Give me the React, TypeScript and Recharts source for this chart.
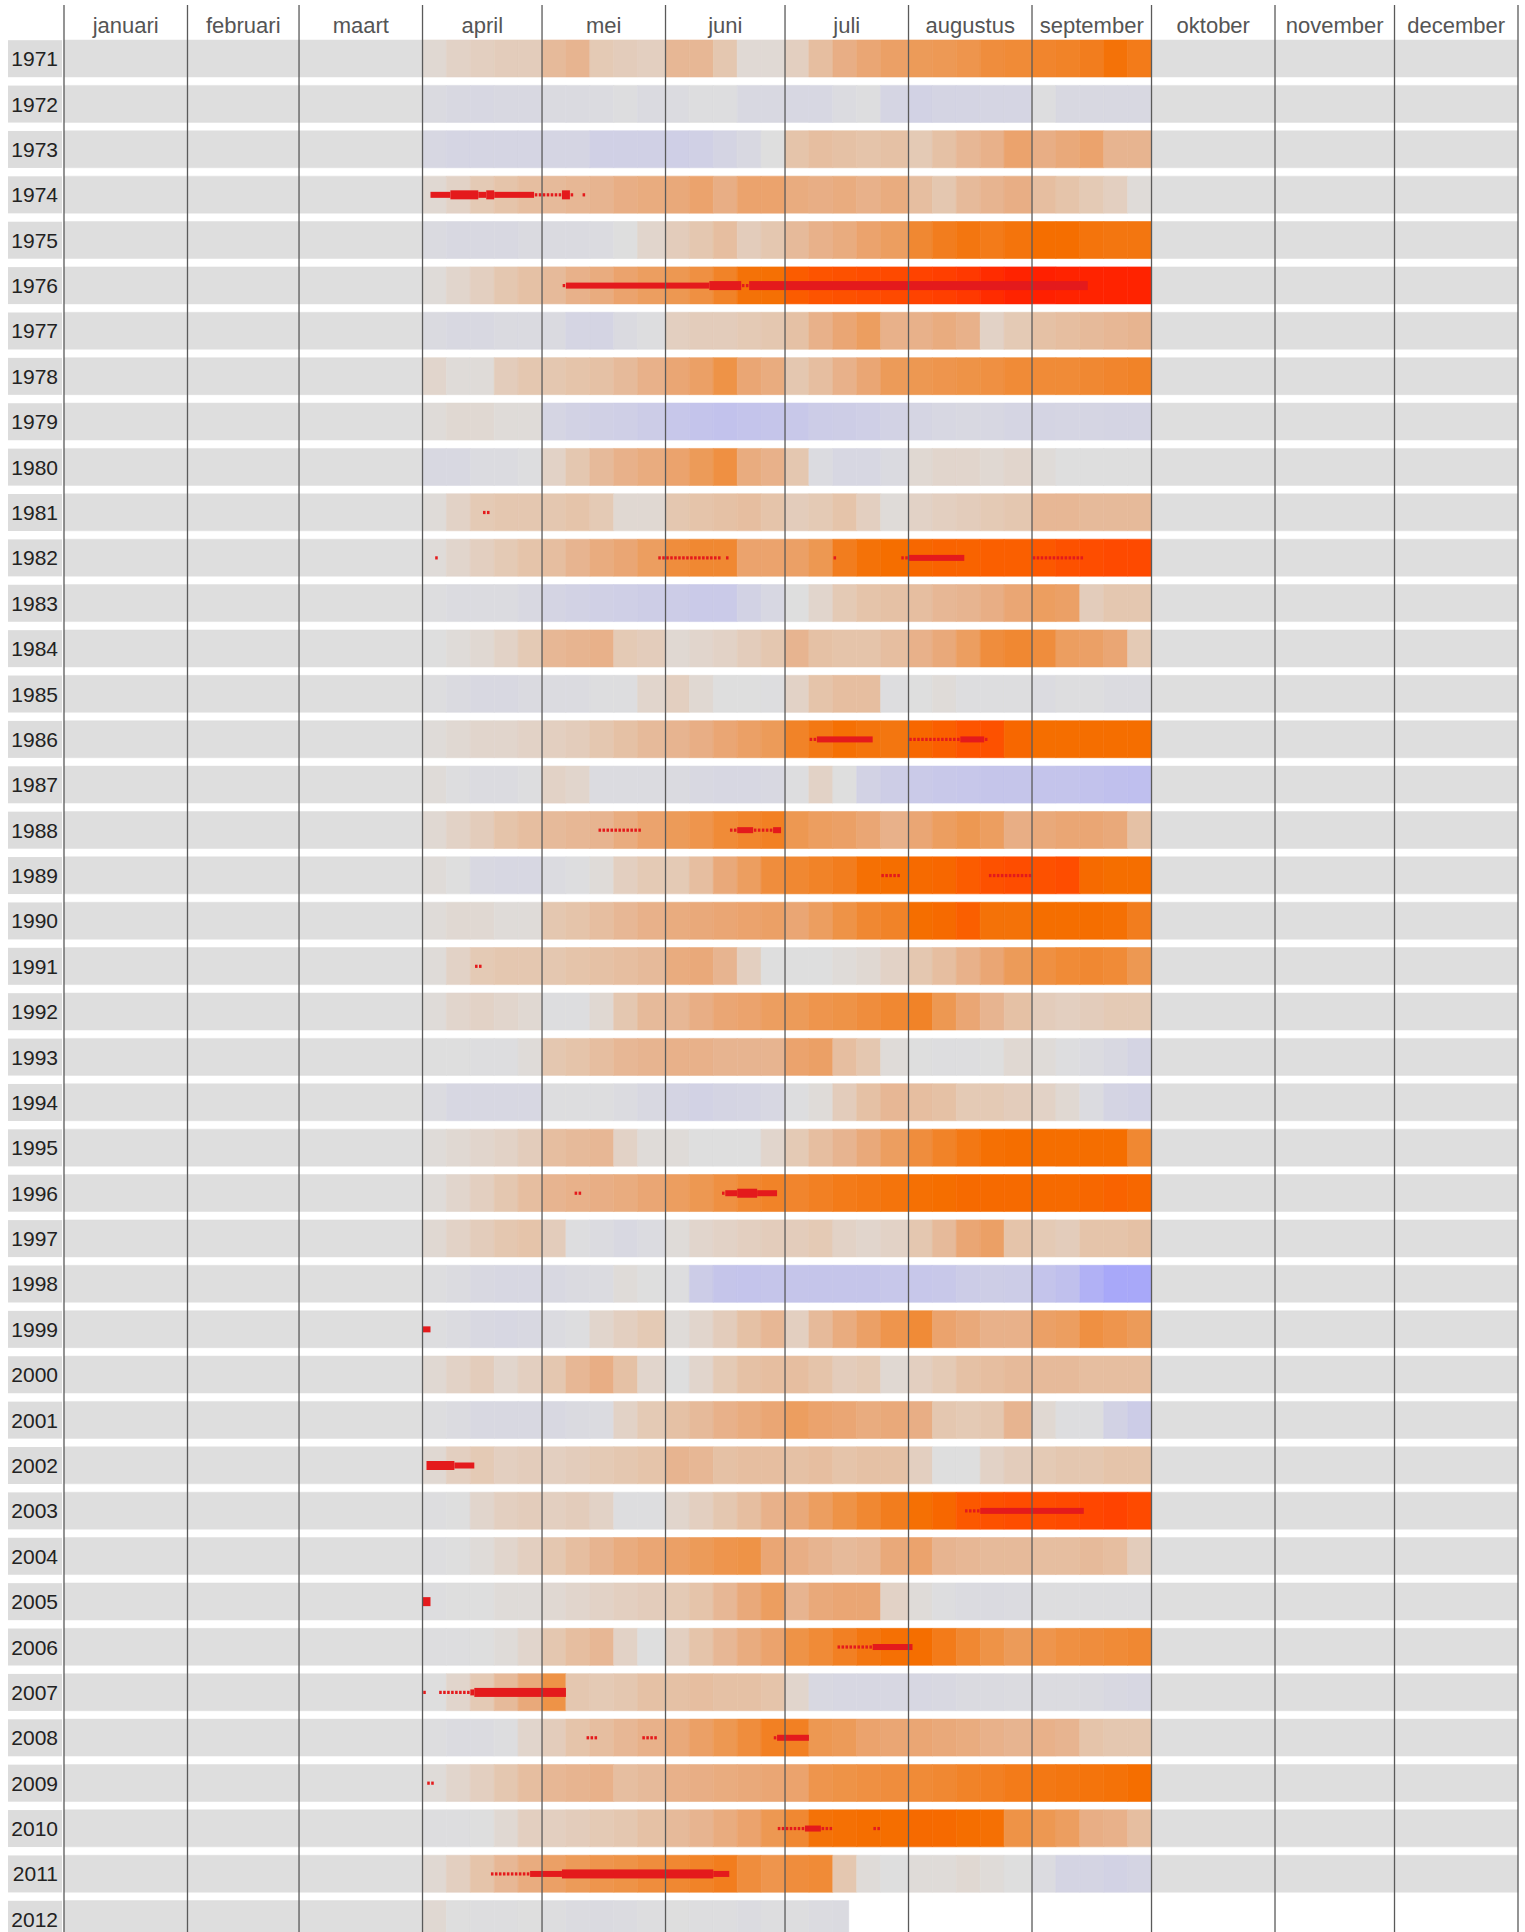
import React from "react";
import { BarChart, Bar, XAxis, YAxis, Cell, ReferenceLine, ReferenceArea } from "recharts";

// Daily precipitation deficit per year (april - september), with dry spells on top.
// Heat is read per ~6-day block; gray = 0, lavender = surplus, orange/red = deficit.
const FONT = '"Liberation Sans", Arial, Helvetica, sans-serif';
const BAND = "#dedede";
const LABEL_BG = "#dcdcdc";
const RULE = "#5a5a5a";
const DRY = "#e41a1c";

const monthNames = [
  "januari", "februari", "maart", "april", "mei", "juni",
  "juli", "augustus", "september", "oktober", "november", "december",
];
const monthDays = [31, 28, 31, 30, 31, 30, 31, 31, 30, 31, 30, 31];

// season blocks: 5 per month, april .. september
const blockDays = [
  6, 6, 6, 6, 6,
  6, 6, 6, 6, 7,
  6, 6, 6, 6, 6,
  6, 6, 6, 6, 7,
  6, 6, 6, 6, 7,
  6, 6, 6, 6, 6,
];
const seasonStart = 90;
const seasonEnd = 273;
const lastDay2012 = 197;

const years = [
  1971, 1972, 1973, 1974, 1975, 1976, 1977, 1978, 1979, 1980,
  1981, 1982, 1983, 1984, 1985, 1986, 1987, 1988, 1989, 1990,
  1991, 1992, 1993, 1994, 1995, 1996, 1997, 1998, 1999, 2000,
  2001, 2002, 2003, 2004, 2005, 2006, 2007, 2008, 2009, 2010,
  2011, 2012,
];

// deficit in mm per block
const d1971 = [10, 20, 25, 30, 30, 60, 70, 35, 30, 25, 65, 65, 40, 8, 8, 25, 55, 80, 95, 105, 115, 118, 125, 140, 145, 155, 160, 170, 195, 175];
const d1972 = [-15, -20, -25, -20, -20, -15, -15, -10, -5, -15, -10, -5, -5, -20, -20, -25, -25, -10, -5, -30, -40, -35, -35, -30, -30, -5, -20, -20, -20, -20];
const d1973 = [-25, -30, -30, -30, -30, -30, -30, -45, -45, -45, -50, -45, -35, -20, 0, 45, 55, 50, 45, 50, 35, 50, 65, 75, 100, 80, 90, 100, 70, 70];
const d1974 = [10, 20, 35, 45, 55, 60, 65, 70, 80, 85, 90, 100, 80, 100, 100, 85, 80, 85, 75, 85, 55, 40, 60, 70, 80, 55, 45, 35, 25, 5];
const d1975 = [-15, -20, -20, -20, -15, -15, -15, -10, 0, 15, 30, 40, 55, 30, 40, 60, 75, 85, 100, 110, 150, 170, 185, 175, 190, 205, 205, 190, 185, 185];
const d1976 = [5, 15, 25, 40, 50, 60, 75, 85, 100, 110, 120, 135, 160, 195, 200, 230, 240, 245, 250, 255, 265, 270, 280, 300, 315, 320, 315, 315, 315, 315];
const d1977 = [-15, -20, -20, -15, -15, -15, -30, -35, -15, -5, 25, 30, 30, 35, 40, 50, 75, 95, 110, 75, 75, 85, 75, 20, 35, 50, 55, 60, 65, 70];
const d1978 = [15, 5, 5, 30, 40, 40, 45, 50, 60, 75, 95, 105, 130, 95, 85, 40, 55, 75, 95, 115, 120, 125, 130, 135, 145, 145, 145, 150, 155, 160];
const d1979 = [5, 10, 10, 5, 5, -30, -40, -45, -50, -60, -75, -85, -90, -85, -80, -70, -60, -55, -50, -40, -30, -25, -20, -25, -30, -35, -30, -30, -35, -35];
const d1980 = [-20, -20, -10, -10, -5, 20, 40, 60, 75, 85, 100, 115, 135, 85, 75, 40, -10, -25, -25, -15, 10, 15, 15, 10, 15, 5, 0, 0, 0, 0];
const d1981 = [5, 20, 35, 40, 40, 40, 45, 35, 10, 10, 40, 45, 50, 55, 45, 30, 35, 45, 25, 5, 20, 25, 30, 35, 40, 65, 65, 60, 60, 60];
const d1982 = [5, 15, 25, 35, 45, 55, 70, 85, 95, 110, 140, 150, 150, 100, 100, 105, 120, 170, 195, 205, 215, 220, 220, 225, 225, 235, 245, 250, 255, 255];
const d1983 = [-5, -10, -10, -10, -20, -35, -40, -45, -50, -55, -60, -65, -65, -40, -25, 0, 15, 35, 45, 50, 55, 65, 70, 80, 95, 110, 105, 30, 40, 40];
const d1984 = [0, 5, 10, 20, 35, 65, 70, 75, 35, 30, 10, 15, 20, 30, 40, 70, 50, 45, 45, 55, 75, 90, 110, 140, 150, 140, 110, 105, 95, 35];
const d1985 = [-5, -15, -20, -20, -15, -10, -10, -5, -5, 15, 25, 10, 0, 0, -5, 20, 45, 55, 55, -5, 0, 5, -5, -5, -5, -10, -5, -5, -10, -10];
const d1986 = [5, 10, 15, 15, 20, 25, 30, 40, 50, 60, 70, 80, 95, 105, 115, 160, 180, 200, 190, 185, 215, 225, 240, 245, 215, 205, 205, 205, 205, 205];
const d1987 = [5, -5, -10, -10, -5, 20, 15, -10, -10, -10, -15, -20, -25, -25, -20, -5, 20, 0, -40, -55, -65, -70, -75, -80, -80, -85, -85, -90, -95, -100];
const d1988 = [10, 20, 30, 45, 55, 60, 65, 70, 85, 100, 115, 125, 145, 155, 165, 120, 110, 105, 95, 75, 95, 110, 120, 110, 80, 90, 95, 95, 90, 50];
const d1989 = [5, 0, -20, -25, -25, -10, -5, 5, 25, 35, 35, 55, 90, 110, 140, 150, 160, 170, 200, 205, 210, 215, 230, 245, 250, 245, 250, 210, 205, 205];
const d1990 = [5, 10, 10, 5, 5, 40, 45, 55, 65, 75, 85, 90, 95, 100, 105, 95, 110, 130, 150, 160, 205, 210, 225, 195, 195, 205, 205, 205, 200, 170];
const d1991 = [5, 20, 35, 40, 40, 40, 45, 50, 55, 60, 85, 90, 70, 25, 0, 0, 0, 5, 10, 20, 40, 55, 75, 95, 115, 135, 145, 150, 145, 120];
const d1992 = [5, 15, 20, 15, 10, -5, -5, 10, 40, 60, 65, 80, 95, 100, 110, 115, 125, 130, 140, 150, 160, 120, 95, 70, 50, 30, 25, 30, 35, 35];
const d1993 = [0, 0, -5, -5, 5, 40, 45, 55, 65, 70, 75, 75, 70, 70, 70, 100, 105, 55, 40, 5, 0, -5, -5, 0, 10, 5, -5, -10, -20, -35];
const d1994 = [-10, -25, -25, -25, -25, -5, -5, -5, -10, -20, -35, -40, -35, -30, -25, -5, 5, 30, 50, 65, 55, 50, 35, 35, 30, 20, 10, -10, -35, -40];
const d1995 = [5, 10, 15, 20, 30, 55, 60, 65, 20, 5, 5, 0, 0, 0, 15, 35, 55, 70, 90, 110, 140, 160, 180, 200, 205, 205, 205, 205, 205, 150];
const d1996 = [5, 15, 25, 40, 55, 70, 75, 80, 85, 95, 110, 120, 135, 150, 160, 155, 165, 175, 180, 190, 200, 205, 210, 210, 210, 210, 210, 215, 220, 215];
const d1997 = [10, 20, 30, 40, 45, 30, -5, -10, -20, -10, 5, 15, 20, 25, 30, 30, 35, 20, 15, 20, 40, 60, 95, 105, 45, 35, 30, 45, 45, 50];
const d1998 = [-5, -10, -20, -25, -25, -20, -15, -10, 5, 0, -5, -60, -80, -85, -80, -80, -80, -80, -80, -75, -75, -70, -60, -55, -60, -85, -95, -140, -165, -165];
const d1999 = [-5, -10, -20, -25, -20, -10, -5, 15, 25, 35, 5, 15, 30, 50, 65, 25, 60, 85, 105, 125, 145, 100, 90, 75, 75, 105, 110, 135, 125, 115];
const d2000 = [10, 20, 30, 15, 25, 40, 65, 80, 50, 15, 0, 15, 35, 50, 55, 55, 45, 30, 35, 10, 25, 35, 50, 55, 60, 60, 60, 55, 55, 55];
const d2001 = [-5, -10, -20, -20, -20, -20, -15, -10, 20, 35, 50, 60, 75, 85, 95, 110, 100, 95, 85, 90, 80, 40, 35, 40, 70, 10, -5, -5, -40, -60];
const d2002 = [10, 25, 35, 25, 30, 25, 30, 35, 40, 45, 70, 65, 50, 55, 55, 50, 55, 45, 50, 50, 25, 0, 0, 20, 30, 35, 40, 40, 45, 45];
const d2003 = [-5, 0, 15, 25, 30, 25, 30, 20, -5, -5, 15, 25, 40, 55, 75, 90, 110, 130, 150, 170, 200, 215, 235, 245, 250, 250, 255, 260, 265, 255];
const d2004 = [-5, 0, 5, 15, 25, 40, 55, 70, 85, 95, 105, 115, 125, 130, 95, 80, 70, 60, 65, 90, 100, 70, 65, 60, 60, 55, 55, 60, 55, 30];
const d2005 = [-5, 0, 0, 5, 5, 10, 15, 20, 25, 30, 35, 45, 65, 90, 110, 70, 90, 95, 95, 20, 5, -5, -10, -15, -10, -5, -5, -5, -5, -5];
const d2006 = [-5, -5, 0, 5, 15, 40, 55, 65, 20, 0, 25, 45, 65, 85, 100, 130, 145, 165, 185, 200, 205, 175, 150, 130, 115, 125, 135, 140, 145, 150];
const d2007 = [0, 15, 35, 60, 90, 130, 40, 35, 40, 50, 50, 55, 50, 50, 45, 15, -20, -25, -25, -25, -25, -20, -15, -15, -10, -10, -10, -15, -20, -25];
const d2008 = [-5, -10, -10, -5, 15, 30, 45, 55, 65, 75, 90, 105, 120, 140, 165, 165, 120, 115, 100, 95, 95, 90, 85, 75, 70, 75, 70, 45, 40, 40];
const d2009 = [5, 15, 25, 40, 55, 65, 70, 75, 55, 60, 75, 80, 85, 90, 95, 100, 125, 130, 135, 140, 145, 150, 160, 165, 175, 180, 185, 190, 195, 205];
const d2010 = [-5, -5, 0, 10, 25, 25, 30, 35, 40, 50, 60, 70, 85, 100, 120, 150, 195, 200, 205, 205, 210, 210, 205, 200, 130, 120, 110, 80, 75, 55];
const d2011 = [10, 25, 45, 65, 85, 105, 115, 125, 130, 140, 150, 160, 170, 140, 125, 140, 145, 40, 5, 0, 5, 5, 10, 5, 0, -10, -35, -35, -40, -35];
const d2012 = [10, 0, -5, -5, 0, -5, -10, -15, -10, -5, 0, -5, -5, -10, -5, -5, -10, -15];

const deficit = [
  d1971, d1972, d1973, d1974, d1975, d1976, d1977, d1978, d1979, d1980,
  d1981, d1982, d1983, d1984, d1985, d1986, d1987, d1988, d1989, d1990,
  d1991, d1992, d1993, d1994, d1995, d1996, d1997, d1998, d1999, d2000,
  d2001, d2002, d2003, d2004, d2005, d2006, d2007, d2008, d2009, d2010,
  d2011, d2012,
];

// dry spells: [first day, end day, weight] with 1 = single days, 2 = spell, 3 = long spell
const dry1974 = [[92, 97, 2], [97, 104, 3], [104, 106, 2], [106, 108, 3], [108, 118, 2], [118, 125, 1], [125, 127, 3], [127, 128, 1], [130, 131, 1]];
const dry1976 = [[125, 126, 1], [126, 162, 2], [162, 170, 3], [170, 172, 1], [172, 257, 3]];
const dry1981 = [[105, 107, 1]];
const dry1982 = [[93, 94, 1], [149, 165, 1], [166, 167, 1], [193, 194, 1], [210, 212, 1], [212, 226, 2], [243, 256, 1]];
const dry1986 = [[187, 189, 1], [189, 203, 2], [212, 225, 1], [225, 231, 2], [231, 232, 1]];
const dry1988 = [[134, 145, 1], [167, 169, 1], [169, 173, 2], [173, 178, 1], [178, 180, 2]];
const dry1989 = [[205, 210, 1], [232, 243, 1]];
const dry1991 = [[103, 105, 1]];
const dry1996 = [[128, 130, 1], [165, 166, 1], [166, 169, 2], [169, 174, 3], [174, 179, 2]];
const dry1999 = [[90, 92, 2]];
const dry2002 = [[91, 98, 3], [98, 103, 2]];
const dry2003 = [[226, 230, 1], [230, 256, 2]];
const dry2005 = [[90, 92, 3]];
const dry2006 = [[194, 203, 1], [203, 213, 2]];
const dry2007 = [[90, 91, 1], [94, 102, 1], [102, 103, 2], [103, 126, 3]];
const dry2008 = [[131, 134, 1], [145, 149, 1], [178, 179, 1], [179, 187, 2]];
const dry2009 = [[91, 93, 1]];
const dry2010 = [[179, 186, 1], [186, 190, 2], [190, 193, 1], [203, 205, 1]];
const dry2011 = [[107, 117, 1], [117, 125, 2], [125, 163, 3], [163, 167, 2]];

const drySpells: Record<number, number[][]> = {
  1974: dry1974, 1976: dry1976, 1981: dry1981, 1982: dry1982, 1986: dry1986,
  1988: dry1988, 1989: dry1989, 1991: dry1991, 1996: dry1996, 1999: dry1999,
  2002: dry2002, 2003: dry2003, 2005: dry2005, 2006: dry2006, 2007: dry2007,
  2008: dry2008, 2009: dry2009, 2010: dry2010, 2011: dry2011,
};

// colour ramp: surplus lavender -> gray -> peach -> orange -> red
const heatStops: [number, number[]][] = [
  [-170, [166, 166, 250]],
  [-90, [194, 194, 236]],
  [-40, [210, 210, 228]],
  [0, [222, 222, 222]],
  [20, [226, 210, 198]],
  [45, [229, 196, 170]],
  [70, [231, 180, 144]],
  [95, [234, 166, 116]],
  [120, [237, 152, 82]],
  [150, [240, 136, 50]],
  [180, [243, 120, 20]],
  [205, [245, 110, 0]],
  [235, [252, 88, 0]],
  [260, [255, 70, 0]],
  [290, [255, 50, 0]],
  [320, [255, 32, 0]],
];

function heat(v: number | undefined) {
  if (v === undefined) return BAND;
  let c = heatStops[heatStops.length - 1][1];
  if (v <= heatStops[0][0]) c = heatStops[0][1];
  for (let i = 0; i < heatStops.length - 1; i++) {
    const [a, ca] = heatStops[i];
    const [b, cb] = heatStops[i + 1];
    if (v >= a && v <= b) {
      const t = (v - a) / (b - a);
      c = ca.map((k, j) => k + (cb[j] - k) * t);
      break;
    }
  }
  return `rgb(${c.map((k) => Math.round(k)).join(",")})`;
}

const monthStarts = monthDays.reduce<number[]>((acc, d) => [...acc, acc[acc.length - 1] + d], [0]);
const monthMids = monthDays.map((d, i) => monthStarts[i] + d / 2);

const rows = years.map((year) => {
  const end = year === 2012 ? lastDay2012 : seasonEnd;
  const row: Record<string, number> = { year, pre: seasonStart };
  let start = seasonStart;
  blockDays.forEach((len, i) => {
    row[`b${i}`] = Math.max(0, Math.min(len, end - start));
    start += len;
  });
  row.post = end === seasonEnd ? 365 - seasonEnd : 0;
  return row;
});

function YearTick({ x, y, payload }: any) {
  return (
    <g>
      <rect x={x - 56} y={y - 18.5} width={54} height={37} fill={LABEL_BG} />
      <text x={x - 6} y={y} dy={7.5} textAnchor="end" fontSize={21} fill="#222" fontFamily={FONT}>
        {payload.value}
      </text>
    </g>
  );
}

function DryMark({ x, y, width, height, level, days }: any) {
  const cy = y + height / 2;
  if (level === 1) {
    const dw = width / days;
    return (
      <g>
        {Array.from({ length: days }, (_, i) => (
          <rect key={i} x={x + i * dw + dw * 0.18} y={cy - 1.6} width={dw * 0.64} height={3.2} fill={DRY} />
        ))}
      </g>
    );
  }
  const h = level === 3 ? 9 : 6;
  return <rect x={x} y={cy - h / 2} width={width} height={h} fill={DRY} />;
}

export default function App() {
  return (
    <div style={{ position: "absolute", left: 0, top: 0, width: 1525, height: 1932, overflow: "hidden", background: "#fff" }}>
      <BarChart
        width={1525}
        height={1942}
        data={rows}
        layout="vertical"
        barSize={37}
        margin={{ top: 0, right: 7, bottom: 0, left: 0 }}
      >
        <XAxis
          type="number"
          orientation="top"
          domain={[0, 365]}
          ticks={monthMids}
          interval={0}
          height={36}
          axisLine={false}
          tickLine={false}
          tickSize={0}
          tickMargin={3}
          tickFormatter={(v: number) => monthNames[monthMids.indexOf(v)]}
          tick={{ fontSize: 22, fill: "#555", fontFamily: FONT }}
        />
        <YAxis
          type="category"
          dataKey="year"
          width={64}
          interval={0}
          axisLine={false}
          tickLine={false}
          tickSize={0}
          tickMargin={0}
          tick={<YearTick />}
        />
        <Bar dataKey="pre" stackId="a" fill={BAND} stroke={BAND} strokeWidth={0.5} isAnimationActive={false} />
        {blockDays.map((_, i) => (
          <Bar key={i} dataKey={`b${i}`} stackId="a" isAnimationActive={false}>
            {rows.map((_, r) => {
              const c = heat(deficit[r][i]);
              return <Cell key={r} fill={c} stroke={c} strokeWidth={0.6} />;
            })}
          </Bar>
        ))}
        <Bar dataKey="post" stackId="a" fill={BAND} stroke={BAND} strokeWidth={0.5} isAnimationActive={false} />
        {years.flatMap((year) =>
          (drySpells[year] || []).map(([x1, x2, level], k) => (
            <ReferenceArea
              key={`${year}-${k}`}
              x1={x1}
              x2={x2}
              y1={year}
              y2={year}
              zIndex={1500}
              ifOverflow="visible"
              shape={(p: any) => <DryMark {...p} level={level} days={x2 - x1} />}
            />
          ))
        )}
        {monthStarts.map((d) => (
          <ReferenceLine
            key={d}
            x={d}
            zIndex={1600}
            stroke={RULE}
            strokeWidth={1.3}
            shape={(p: any) => (
              <line
                x1={p.x1}
                x2={p.x2}
                y1={Math.min(p.y1, p.y2) - 31}
                y2={Math.max(p.y1, p.y2)}
                stroke={RULE}
                strokeWidth={1.3}
              />
            )}
          />
        ))}
      </BarChart>
    </div>
  );
}
